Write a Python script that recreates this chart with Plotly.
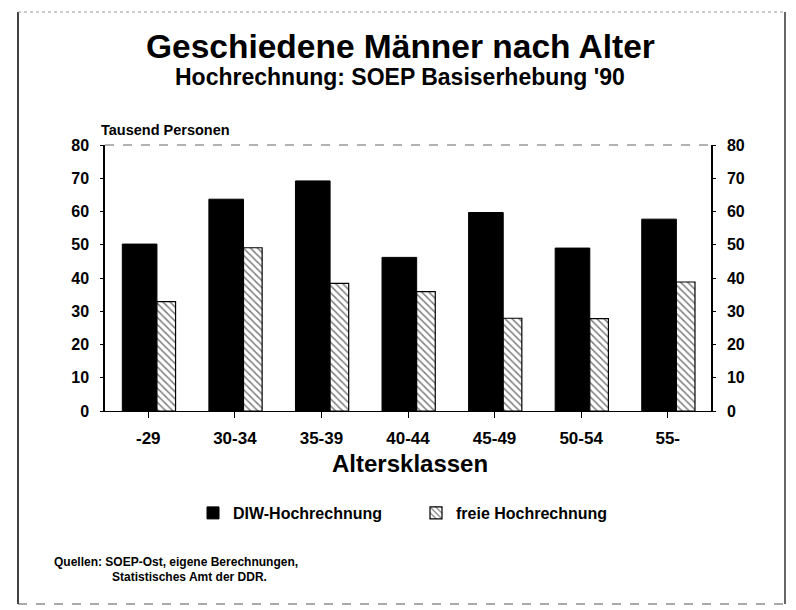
import plotly.graph_objects as go

categories = ["-29", "30-34", "35-39", "40-44", "45-49", "50-54", "55-"]
diw_values = [50.2, 63.7, 69.2, 46.2, 59.7, 49.0, 57.7]
freie_values = [32.9, 49.1, 38.4, 35.9, 27.9, 27.8, 38.8]
y_ticks = [0, 10, 20, 30, 40, 50, 60, 70, 80]

FONT = "Liberation Sans, Arial, Helvetica, sans-serif"

OFF = 8  # browser body margin
W, H = 796 - OFF, 610 - OFF
L, R, T, B = 105, 711, 145, 411  # plot area in screen pixels
pw, ph = R - L, B - T


def px(x):
    return (x - L) / pw


def py(y):
    return (B - y) / ph


fig = go.Figure()
fig.add_trace(go.Bar(
    x=categories, y=diw_values, name="DIW-Hochrechnung",
    marker=dict(color="black", line=dict(color="black", width=1)),
    width=0.40, offset=-0.30,
))
fig.add_trace(go.Bar(
    x=categories, y=freie_values, name="freie Hochrechnung",
    marker=dict(color="white", line=dict(color="black", width=1.2),
                pattern=dict(shape="\\", fgcolor="black", bgcolor="white",
                             size=5, solidity=0.3)),
    width=0.215, offset=0.10,
))
# invisible companion trace so the right-hand axis is drawn
fig.add_trace(go.Scatter(
    x=categories, y=diw_values, yaxis="y2", mode="markers",
    marker=dict(opacity=0), showlegend=False, hoverinfo="skip",
))

tickfont = dict(family=FONT, size=16, color="black", weight="bold")
xtickfont = dict(family=FONT, size=17, color="black", weight="bold")

fig.update_layout(
    width=W, height=H,
    margin=dict(l=L - OFF, r=W - (R - OFF), t=T - OFF, b=H - (B - OFF), pad=0),
    plot_bgcolor="white", paper_bgcolor="white",
    font=dict(family=FONT, color="black"),
    barmode="overlay",
    showlegend=True,
    legend=dict(orientation="h", x=px(193), xanchor="left", y=py(513), yanchor="middle",
                font=dict(family=FONT, size=16, color="black", weight="bold"),
                entrywidth=178, bgcolor="rgba(0,0,0,0)", itemwidth=30),
    xaxis=dict(
        range=[-0.5, 6.5], tickfont=xtickfont, showline=True, linecolor="black",
        linewidth=1, ticks="outside", ticklen=6, tickcolor="black", showgrid=False,
        zeroline=False, ticklabelstandoff=6,
    ),
    yaxis=dict(
        range=[0, 80], tickvals=y_ticks, tickfont=tickfont, showline=True,
        linecolor="black", linewidth=1.5, ticks="outside", ticklen=3, tickcolor="black",
        showgrid=False, zeroline=False, ticklabelstandoff=8,
    ),
    yaxis2=dict(
        range=[0, 80], tickvals=y_ticks, tickfont=tickfont, overlaying="y", side="right",
        showline=True, linecolor="black", linewidth=1.5, ticks="outside", ticklen=3,
        tickcolor="black", showgrid=False, zeroline=False, ticklabelstandoff=8,
    ),
)

annotations = [
    dict(text="Geschiedene Männer nach Alter", x=px(400), y=py(46),
         font=dict(family=FONT, size=33.5, color="black", weight="bold")),
    dict(text="Hochrechnung: SOEP Basiserhebung '90", x=px(400), y=py(77),
         font=dict(family=FONT, size=23, color="black", weight="bold")),
    dict(text="Tausend Personen", x=px(99), y=py(130), xanchor="left",
         font=dict(family=FONT, size=14.5, color="black", weight="bold")),
    dict(text="Altersklassen", x=px(410), y=py(463),
         font=dict(family=FONT, size=24, color="black", weight="bold")),
    dict(text="Quellen: SOEP-Ost, eigene Berechnungen,", x=px(52), y=py(562), xanchor="left",
         font=dict(family=FONT, size=12, color="black", weight="bold")),
    dict(text="Statistisches Amt der DDR.", x=px(110), y=py(577), xanchor="left",
         font=dict(family=FONT, size=12, color="black", weight="bold")),
]
for a in annotations:
    a.setdefault("xanchor", "center")
    fig.add_annotation(xref="paper", yref="paper", yanchor="middle", showarrow=False, **a)

# outer frame and dashed top edge of plot
shapes = [
    dict(type="line", x0=px(18), x1=px(18), y0=py(12), y1=py(604), line=dict(color="black", width=1.5)),
    dict(type="line", x0=px(785), x1=px(785), y0=py(12), y1=py(604), line=dict(color="black", width=1.2)),
    dict(type="line", x0=px(18), x1=px(785), y0=py(604), y1=py(604), line=dict(color="#555", width=1, dash="dash")),
    dict(type="line", x0=px(18), x1=px(785), y0=py(12), y1=py(12), line=dict(color="#999", width=1, dash="dot")),
    dict(type="line", x0=0, x1=1, y0=1, y1=1, line=dict(color="#666", width=1, dash="dash")),
]
for s in shapes:
    fig.add_shape(xref="paper", yref="paper", **s)

fig.write_html("out.html")
